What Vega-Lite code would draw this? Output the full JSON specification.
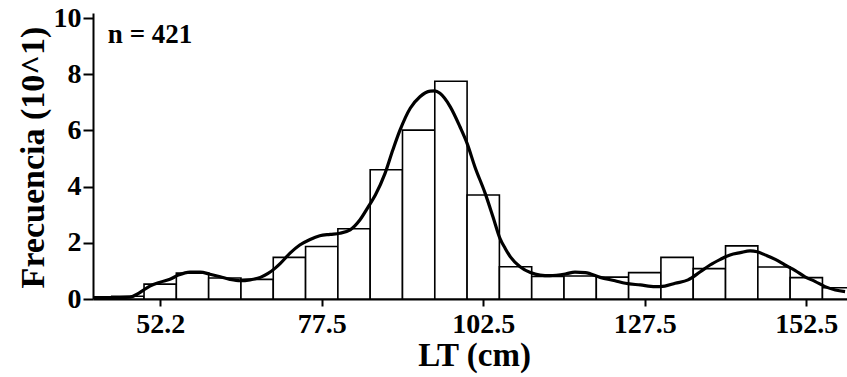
{
  "$schema": "https://vega.github.io/schema/vega-lite/v6.json",
  "width": 754,
  "height": 286,
  "autosize": {"type": "none"},
  "padding": {"left": 93, "top": 13, "right": 0, "bottom": 78},
  "background": "white",
  "config": {
    "view": {"stroke": null},
    "font": "Liberation Serif",
    "axis": {
      "grid": false,
      "domainColor": "black",
      "domainWidth": 2,
      "tickColor": "black",
      "tickWidth": 2,
      "labelFont": "Liberation Serif",
      "labelFontWeight": "bold",
      "labelFontSize": 28,
      "labelColor": "black",
      "titleFont": "Liberation Serif",
      "titleFontWeight": "bold",
      "titleFontSize": 33,
      "titleColor": "black"
    }
  },
  "datasets": {
    "bars": [
      {"lo": 45, "hi": 50, "freq": 0.1},
      {"lo": 50, "hi": 55, "freq": 0.53},
      {"lo": 55, "hi": 60, "freq": 0.92},
      {"lo": 60, "hi": 65, "freq": 0.75},
      {"lo": 65, "hi": 70, "freq": 0.7},
      {"lo": 70, "hi": 75, "freq": 1.48},
      {"lo": 75, "hi": 80, "freq": 1.87},
      {"lo": 80, "hi": 85, "freq": 2.5},
      {"lo": 85, "hi": 90, "freq": 4.6},
      {"lo": 90, "hi": 95, "freq": 6.01},
      {"lo": 95, "hi": 100, "freq": 7.75},
      {"lo": 100, "hi": 105, "freq": 3.7},
      {"lo": 105, "hi": 110, "freq": 1.15},
      {"lo": 110, "hi": 115, "freq": 0.8},
      {"lo": 115, "hi": 120, "freq": 0.82},
      {"lo": 120, "hi": 125, "freq": 0.78},
      {"lo": 125, "hi": 130, "freq": 0.94},
      {"lo": 130, "hi": 135, "freq": 1.48},
      {"lo": 135, "hi": 140, "freq": 1.08},
      {"lo": 140, "hi": 145, "freq": 1.89},
      {"lo": 145, "hi": 150, "freq": 1.14},
      {"lo": 150, "hi": 155, "freq": 0.76},
      {"lo": 155, "hi": 160, "freq": 0.4}
    ],
    "curve": [
      {"x": 42.1, "y": 0.05},
      {"x": 44.7, "y": 0.05},
      {"x": 47.8, "y": 0.07},
      {"x": 49.0, "y": 0.18},
      {"x": 49.8, "y": 0.3},
      {"x": 50.9, "y": 0.46},
      {"x": 52.5, "y": 0.6},
      {"x": 54.0, "y": 0.7},
      {"x": 55.3, "y": 0.85},
      {"x": 57.1, "y": 0.96},
      {"x": 58.7, "y": 0.96},
      {"x": 60.2, "y": 0.88},
      {"x": 61.8, "y": 0.79},
      {"x": 63.3, "y": 0.7},
      {"x": 64.9, "y": 0.65},
      {"x": 66.4, "y": 0.68},
      {"x": 68.0, "y": 0.77},
      {"x": 69.2, "y": 0.91},
      {"x": 70.3, "y": 1.1},
      {"x": 71.1, "y": 1.27},
      {"x": 72.6, "y": 1.63},
      {"x": 74.1, "y": 1.92},
      {"x": 75.7, "y": 2.12},
      {"x": 77.2, "y": 2.25},
      {"x": 78.8, "y": 2.3},
      {"x": 80.3, "y": 2.34},
      {"x": 81.9, "y": 2.46},
      {"x": 83.4, "y": 2.81},
      {"x": 84.7, "y": 3.28},
      {"x": 85.8, "y": 3.7},
      {"x": 87.3, "y": 4.47},
      {"x": 88.5, "y": 5.3},
      {"x": 89.6, "y": 6.0},
      {"x": 91.2, "y": 6.79},
      {"x": 92.7, "y": 7.2},
      {"x": 94.3, "y": 7.4},
      {"x": 95.0, "y": 7.41},
      {"x": 95.8, "y": 7.32},
      {"x": 97.4, "y": 6.84},
      {"x": 98.9, "y": 6.13},
      {"x": 100.0, "y": 5.54},
      {"x": 101.2, "y": 4.71},
      {"x": 102.8, "y": 3.76},
      {"x": 104.0, "y": 2.93},
      {"x": 105.1, "y": 2.15},
      {"x": 105.9, "y": 1.8},
      {"x": 106.7, "y": 1.5},
      {"x": 108.2, "y": 1.15},
      {"x": 109.8, "y": 0.94},
      {"x": 111.3, "y": 0.85},
      {"x": 112.8, "y": 0.83},
      {"x": 115.2, "y": 0.89},
      {"x": 116.7, "y": 0.96},
      {"x": 118.3, "y": 0.94},
      {"x": 120.6, "y": 0.77},
      {"x": 122.9, "y": 0.65},
      {"x": 124.5, "y": 0.56},
      {"x": 126.8, "y": 0.5},
      {"x": 129.1, "y": 0.44},
      {"x": 130.6, "y": 0.46},
      {"x": 132.2, "y": 0.56},
      {"x": 134.2, "y": 0.68},
      {"x": 136.1, "y": 0.97},
      {"x": 137.6, "y": 1.21},
      {"x": 139.2, "y": 1.41},
      {"x": 140.7, "y": 1.57},
      {"x": 142.3, "y": 1.65},
      {"x": 143.8, "y": 1.71},
      {"x": 144.9, "y": 1.68},
      {"x": 146.1, "y": 1.57},
      {"x": 147.7, "y": 1.41},
      {"x": 149.2, "y": 1.21},
      {"x": 150.8, "y": 1.01},
      {"x": 152.3, "y": 0.79},
      {"x": 153.9, "y": 0.62},
      {"x": 155.4, "y": 0.44},
      {"x": 157.0, "y": 0.32},
      {"x": 158.5, "y": 0.26}
    ],
    "note": [{"x": 44.4, "y": 9.11, "label": "n = 421"}]
  },
  "layer": [
    {
      "data": {"name": "bars"},
      "mark": {"type": "rect", "fill": "white", "stroke": "black", "strokeWidth": 1.6, "clip": true},
      "encoding": {
        "x": {
          "field": "lo", "type": "quantitative",
          "scale": {"domain": [42.1, 158.8], "nice": false, "zero": false},
          "axis": {
            "values": [52.5, 77.5, 102.5, 127.5, 152.5],
            "labelExpr": "datum.value == 52.5 ? '52.2' : format(datum.value, '.1f')",
            "tickSize": 7,
            "labelPadding": 4,
            "title": "LT (cm)",
            "titleBaseline": "alphabetic",
            "titleX": 381,
            "titleY": 66,
            "titleAnchor": "start",
            "titleAlign": "center"
          }
        },
        "x2": {"field": "hi"},
        "y": {
          "field": "freq", "type": "quantitative",
          "scale": {"domain": [0, 10.18], "nice": false},
          "axis": {
            "values": [0, 2, 4, 6, 8, 10],
            "tickSize": 10,
            "labelPadding": 2,
            "title": "Frecuencia (10^1)",
            "titleFontSize": 34,
            "titleAngle": -90,
            "titleBaseline": "alphabetic",
            "titleAlign": "center",
            "titleX": -50,
            "titleY": 144
          }
        },
        "y2": {"datum": 0}
      }
    },
    {
      "data": {"name": "curve"},
      "mark": {"type": "line", "color": "black", "strokeWidth": 3.2, "interpolate": "monotone", "clip": true},
      "encoding": {
        "x": {"field": "x", "type": "quantitative"},
        "y": {"field": "y", "type": "quantitative"}
      }
    },
    {
      "data": {"name": "note"},
      "mark": {"type": "text", "align": "left", "baseline": "alphabetic", "font": "Liberation Serif", "fontWeight": "bold", "fontSize": 27, "color": "black"},
      "encoding": {
        "x": {"field": "x", "type": "quantitative"},
        "y": {"field": "y", "type": "quantitative"},
        "text": {"field": "label"}
      }
    }
  ]
}
